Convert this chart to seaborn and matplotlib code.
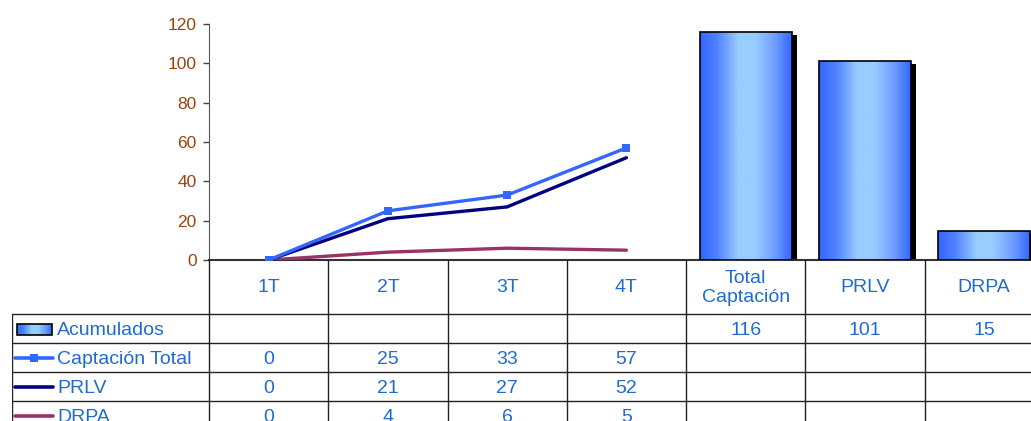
import numpy as np
import pandas as pd
import seaborn as sns
import matplotlib.pyplot as plt
from matplotlib.lines import Line2D
from matplotlib.patches import Rectangle
from matplotlib.colors import LinearSegmentedColormap

# data
quarters = ["1T", "2T", "3T", "4T"]
captacion = [0, 25, 33, 57]
prlv = [0, 21, 27, 52]
drpa = [0, 4, 6, 5]
acum_cats = ["Total\nCaptación", "PRLV", "DRPA"]
acumulados = [116, 101, 15]

all_cats = quarters + acum_cats
row_names = ["Acumulados", "Captación Total", "PRLV", "DRPA"]

c_capt = "#3366FF"
c_prlv = "#000080"
c_drpa = "#993366"
c_text = "#1F6BD1"
c_tick = "#A0410D"

sns.set_style("white")
plt.rcParams["font.family"] = ["Liberation Sans", "DejaVu Sans"]

W, H = 1031, 421
fig = plt.figure(figsize=(W / 100, H / 100), dpi=100)

col_w = 119.25
x_left = 209
x_right = x_left + col_w * len(all_cats)
y_zero = 260
y_top = 24

ax = fig.add_axes([x_left / W, (H - y_zero) / H, (x_right - x_left) / W, (y_zero - y_top) / H])

# bars for the accumulated totals
bars = pd.DataFrame({"cat": acum_cats, "val": acumulados})
sns.barplot(data=bars, x="cat", y="val", order=all_cats, width=0.77,
            color=c_capt, ax=ax, zorder=3)

grad_cmap = LinearSegmentedColormap.from_list(
    "g", [(0, "#3366FF"), (0.18, "#5080FF"), (0.42, "#99CCFF"), (0.6, "#99CCFF"),
          (0.82, "#6F9BFF"), (1, "#3366FF")])
grad = np.linspace(0, 1, 256).reshape(1, -1)
dx_sh = 5 / col_w
dy_sh = 3 * 120 / (y_zero - y_top)
for p in list(ax.patches):
    x0, y0, w, h = p.get_x(), p.get_y(), p.get_width(), p.get_height()
    sh = Rectangle((x0 + dx_sh, y0), w, h - dy_sh, facecolor="black", edgecolor="none", zorder=2)
    ax.add_patch(sh)
    im = ax.imshow(grad, extent=[x0, x0 + w, y0, y0 + h], aspect="auto",
                   cmap=grad_cmap, zorder=3, interpolation="bilinear")
    im.set_clip_path(p)
    p.set_facecolor("none")
    p.set_edgecolor("black")
    p.set_linewidth(1.2)
    p.set_zorder(4)

# lines for the quarterly series
xq = np.arange(len(quarters))
sns.lineplot(x=xq, y=drpa, color=c_drpa, lw=2.4, ax=ax, zorder=5)
sns.lineplot(x=xq, y=prlv, color=c_prlv, lw=2.4, ax=ax, zorder=5)
sns.lineplot(x=xq, y=captacion, color=c_capt, lw=2.4, marker="s", markersize=6,
             markeredgewidth=0, ax=ax, zorder=6)

ax.set_xlim(-0.5, len(all_cats) - 0.5)
ax.set_ylim(0, 120)
ax.set_yticks(range(0, 121, 20))
ax.set_xticks([])
ax.set_xlabel("")
ax.set_ylabel("")
ax.tick_params(axis="y", left=True, direction="out", length=4, width=1, color="#444444",
               labelcolor=c_tick, labelsize=12.5, pad=5)
for s in ["top", "right"]:
    ax.spines[s].set_visible(False)
ax.spines["left"].set_color("#555555")
ax.spines["bottom"].set_color("#333333")
ax.spines["bottom"].set_linewidth(1.5)
ax.patch.set_alpha(0)

# data table below the chart
tab_left = 12
tax = fig.add_axes([tab_left / W, 0, (x_right - tab_left) / W, (H - y_zero) / H])
tax.set_xlim(tab_left, x_right)
tax.set_ylim(H - y_zero, 0)
tax.axis("off")

head_h = 54
row_h = 29
fs = 14
lc = "#222222"

# vertical column lines
for i in range(len(all_cats) + 1):
    tax.plot([x_left + i * col_w] * 2, [0, H], color=lc, lw=1)
tax.plot([tab_left, tab_left], [head_h, H], color=lc, lw=1)
for r in range(len(row_names) + 1):
    y = head_h + r * row_h
    tax.plot([tab_left, x_right], [y, y], color=lc, lw=1)

for i, c in enumerate(all_cats):
    tax.text(x_left + (i + 0.5) * col_w, head_h / 2 + 1, c, ha="center", va="center",
             color=c_text, fontsize=fs, linespacing=1.2)

series = [None, captacion, prlv, drpa]
for r, name in enumerate(row_names):
    yc = head_h + (r + 0.5) * row_h
    tax.text(57, yc + 2, name, ha="left", va="center", color=c_text, fontsize=fs)
    if r == 0:
        vals = [""] * len(quarters) + [str(v) for v in acumulados]
    else:
        vals = [str(v) for v in series[r]] + [""] * len(acum_cats)
    for i, v in enumerate(vals):
        tax.text(x_left + (i + 0.5) * col_w, yc + 2, v, ha="center", va="center",
                 color=c_text, fontsize=fs)

# legend keys
y_ac = head_h + 0.5 * row_h
key = Rectangle((17, y_ac - 5), 35, 11, facecolor="none", edgecolor="black", lw=1.2, zorder=3)
tax.add_patch(key)
kim = tax.imshow(grad, extent=[17, 52, y_ac + 6, y_ac - 5], aspect="auto", cmap=grad_cmap, zorder=2)
kim.set_clip_path(key)
tax.set_xlim(tab_left, x_right)
tax.set_ylim(H - y_zero, 0)
for r, (col, mk) in enumerate([(c_capt, "s"), (c_prlv, None), (c_drpa, None)], start=1):
    yc = head_h + (r + 0.5) * row_h
    tax.add_line(Line2D([15, 53], [yc, yc], color=col, lw=2.6))
    if mk:
        tax.add_line(Line2D([34], [yc], color=col, marker=mk, markersize=5.5, markeredgewidth=0))

fig.savefig("out.png", dpi=100)
